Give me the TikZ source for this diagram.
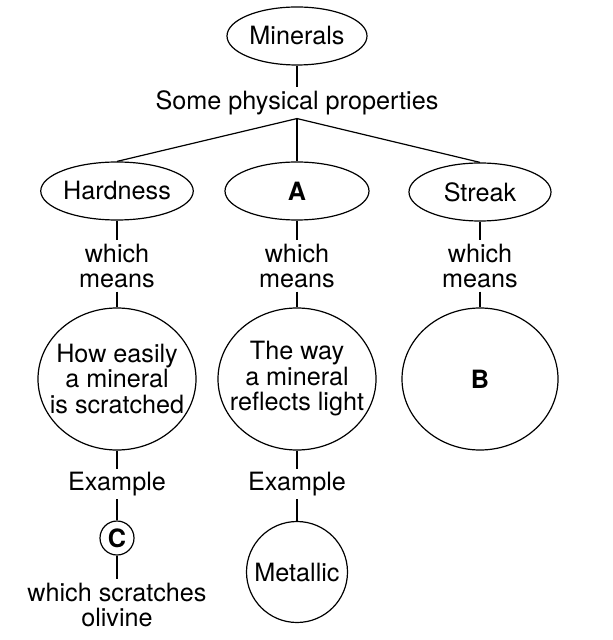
\documentclass[tikz,border=0pt]{standalone}
\usepackage{fontspec}
\setmainfont{TeX Gyre Heros}
\usetikzlibrary{shapes.geometric}
\tikzset{
	oval/.style={draw, ellipse, inner sep=0pt, line width=0.6pt},
	bigoval/.style={oval, align=center, inner sep=-20pt, minimum width=79pt, minimum height=71pt},
	roundel/.style={draw, circle, inner sep=0pt, line width=0.6pt},
	words/.style={align=center, inner xsep=1pt, inner ysep=1.5pt},
	link/.style={line width=0.6pt}
}

\begin{document}
\begin{tikzpicture}[x=0.5pt, y=-0.5pt, font=\fontsize{12.6}{12.75}\selectfont]
		%%%%% START %%%%%
		\useasboundingbox (0, 0) rectangle (613, 640);
		
		\node[oval, minimum width=70pt, minimum height=29pt] (minerals) at (297, 36) {Minerals};
		\node[words] (props) at (297, 103) {Some physical properties};
		
		\node[oval, minimum width=70.5pt, minimum height=29pt] (hard) at (117, 191) {Hardness};
		\node[oval, minimum width=72pt, minimum height=29pt] (aa) at (297, 191) {\textbf{A}};
		\node[oval, minimum width=71pt, minimum height=29pt] (streak) at (480, 192) {Streak};
		
		\node[words] (mean1) at (117, 266) {which\\means};
		\node[words] (mean2) at (297, 266) {which\\means};
		\node[words] (mean3) at (480, 266) {which\\means};
		
		\node[bigoval] (scratch) at (117, 379) {How easily\\a mineral\\is scratched};
		\node[bigoval] (reflect) at (297, 379) {The way\\a mineral\\reflects light};
		\node[bigoval, minimum width=78pt] (bb) at (480, 379) {\textbf{B}};
		
		\node[words] (ex1) at (117, 484) {Example};
		\node[words] (ex2) at (297, 484) {Example};
		
		\node[roundel, minimum size=17pt] (cc) at (117, 538) {\textbf{C}};
		\node[words] (olivine) at (117, 605) {which scratches\\olivine};
		\node[roundel, minimum size=50.5pt] (metal) at (297, 572) {Metallic};
		
		\draw[link] (minerals) -- (props);
		\draw[link] (props.south) -- (hard.north);
		\draw[link] (props.south) -- (aa.north);
		\draw[link] (props.south) -- (streak.north);
		
		\draw[link] (hard) -- (mean1) -- (scratch) -- (ex1) -- (cc) -- (olivine);
		\draw[link] (aa) -- (mean2) -- (reflect) -- (ex2) -- (metal);
		\draw[link] (streak) -- (mean3) -- (bb);
		
		%%%%% END %%%%%
	\end{tikzpicture}
\end{document}
